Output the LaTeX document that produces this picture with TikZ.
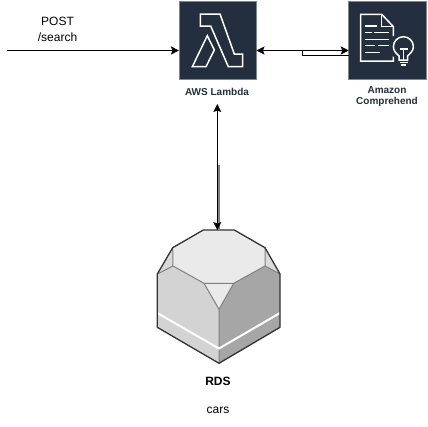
\documentclass[tikz,border=0pt]{standalone}
\usepackage{fontspec}
\setmainfont{Liberation Sans}
\usetikzlibrary{arrows.meta}
\definecolor{awsdark}{HTML}{232F3E}
\definecolor{awsedge}{HTML}{7D8792}
\definecolor{rdsdark}{HTML}{333333}
\definecolor{rdsline}{HTML}{808080}
\definecolor{rdstop}{HTML}{EAEAEA}
\definecolor{rdscorner}{HTML}{DADADA}
\definecolor{rdsleft}{HTML}{D3D3D3}
\definecolor{rdsright}{HTML}{A6A6A6}
\tikzset{
  iconbox/.style={fill=awsdark,draw=awsedge,line width=0.8pt,minimum size=77.5pt,inner sep=0pt,outer sep=0pt},
  glyph/.style={draw=white,line width=1.5pt,line join=miter},
  svclabel/.style={font=\fontsize{10}{12}\selectfont\bfseries,text=awsdark,align=center,inner sep=0pt},
  plainlabel/.style={font=\fontsize{12}{15.5}\selectfont,align=center,inner sep=0pt},
  conn/.style={line width=1pt,-{Stealth[length=8pt,width=8pt,inset=1.5pt]}},
  connboth/.style={line width=1pt,{Stealth[length=8pt,width=8pt,inset=1.5pt]}-{Stealth[length=8pt,width=8pt,inset=1.5pt]}},
  facet/.style={draw=rdsline,line width=1pt,line join=round},
}
\begin{document}
\begin{tikzpicture}[x=1pt,y=-1pt]
\useasboundingbox (0,0) rectangle (428,426);
\fill[white] (0,0) rectangle (428,426);
% service boxes
\node[iconbox] (lambda) at (217.7,40.3) {};
\node[iconbox] (comprehend) at (387.5,40.3) {};
% lambda glyph
\draw[glyph] (200.3,14) -- (220,14) -- (234.3,54) -- (242.7,54) -- (242.7,66.7) -- (228.3,66.7) -- (210.7,26) -- (200.3,26) -- cycle;
\draw[glyph] (207.3,35.7) -- (214.3,50) -- (206,66.7) -- (192.3,66.7) -- cycle;
% comprehend glyph
\draw[glyph] (393.4,36) -- (393.4,26.7) -- (381.7,14.3) -- (360.7,14.3) -- (360.7,61) -- (393.4,61) -- (393.4,56.7);
\draw[glyph] (381.7,14.3) -- (381.7,26.7) -- (393.4,26.7);
\draw[glyph] (365,26) -- (377.3,26);
\draw[glyph] (365,32.7) -- (371.7,32.7) (374.3,32.7) -- (389.3,32.7);
\draw[glyph] (365,39.3) -- (389.3,39.3);
\draw[glyph] (365,45.7) -- (375,45.7) (377.7,45.7) -- (389.3,45.7);
\draw[glyph] (365,52.3) -- (380,52.3);
\draw[glyph] (399,56) .. controls (396,53) and (393.4,51) .. (393.4,46.7) arc[start angle=180,end angle=0,radius=10,y radius=-10] .. controls (413.2,51) and (410.6,53) .. (407.6,56) -- (407.6,60) -- (399,60) -- cycle;
\draw[glyph] (399.5,49) -- (407.5,49) (403.5,49) -- (403.5,60);
\draw[glyph] (399.5,62.5) -- (407.5,62.5);
\draw[glyph] (401,65) -- (406,65);
% labels
\node[svclabel] (lambdalabel) at (217,91.5) {AWS Lambda};
\node[svclabel,text width=80pt] (comprehendlabel) at (387,96.5) {Amazon\\[-0.3pt]Comprehend};
\node[plainlabel] (post) at (57.5,29.5) {POST\\/search};
\node[font=\fontsize{12}{14}\selectfont\bfseries,inner sep=0pt] (rdslabel) at (218,381) {RDS};
\node[font=\fontsize{12}{14}\selectfont,inner sep=0pt] (carslabel) at (218,410) {cars};
% rds
\fill[rdsleft] (157.3,274) -- (219,229.9) -- (219,363.3) -- (157.3,327.3) -- cycle;
\fill[rdsright] (280,274) -- (219,229.9) -- (219,363.3) -- (280,327.3) -- cycle;
\fill[rdstop] (203.3,230) -- (234.3,230) -- (265,247.7) -- (280,274) -- (265,266) -- (233.7,283.3) -- (219,309.3) -- (204,283.3) -- (173.3,266) -- (157.3,274) -- (172.7,247.7) -- cycle;
\fill[rdscorner] (157.3,274) -- (172.7,247.7) -- (173,266) -- cycle;
\fill[rdscorner] (280,274) -- (265,247.7) -- (265,266) -- cycle;
\draw[facet] (172.7,247.7) -- (173,266) -- (204,283.3) -- (233.7,283.3) -- (265,266) -- (265,247.7);
\draw[facet] (157.3,274) -- (173,266) (280,274) -- (265,266);
\draw[facet] (204,283.3) -- (219,309.3) -- (233.7,283.3) (219,309.3) -- (219,363.3);
\draw[white,line width=2pt] (157.3,313) -- (219,348.5) -- (280,313);
\node[inner sep=0pt,outer sep=0pt,minimum width=122.7pt,minimum height=133.3pt] (rds) at (218.7,296.7) {};
\draw[rdsdark,line width=1.3pt,line join=round] (203.3,230) -- (234.3,230) -- (265,247.7) -- (280,274) -- (280,327.3) -- (219,363.3) -- (157.3,327.3) -- (157.3,274) -- (172.7,247.7) -- cycle;
% connectors
\coordinate (entry) at (7,50.5);
\coordinate (up) at (217.3,104);
\coordinate (greytop) at (219,165);
\coordinate (jog) at (302,55.3);
\coordinate (jogtop) at (302,50.5);
\draw[conn] (entry) -- (entry -| lambda.west);
\draw[connboth] (entry -| lambda.east) -- (entry -| comprehend.west);
\draw[line width=1pt] (jog -| comprehend.west) -- (jog) -- (jogtop);
\draw[rdsline,line width=1.6pt] (greytop) -- (greytop |- rds.north);
\draw[connboth] (up) -- (up |- rds.north);
\end{tikzpicture}
\end{document}
